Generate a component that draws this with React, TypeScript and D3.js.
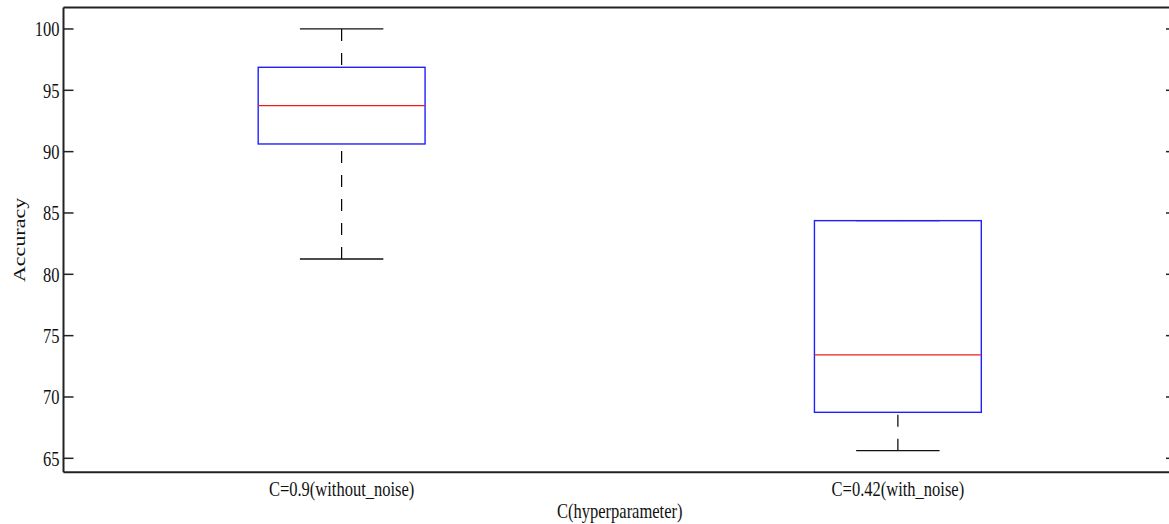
import * as d3 from 'd3'

const categories = ['C=0.9(without_noise)', 'C=0.42(with_noise)']
const lowerWhisker = [81.25, 65.625]
const q1 = [90.625, 68.75]
const median = [93.75, 73.4375]
const q3 = [96.875, 84.375]
const upperWhisker = [100, 84.375]
const yTicks = [65, 70, 75, 80, 85, 90, 95, 100]

const W = 1169
const H = 524
const SQ = 0.75 // the reference text is squeezed horizontally
const txt = { fontFamily: "'Liberation Serif', serif", fontSize: '22px', fill: '#111' }

export default function App() {
  const left = 63.5, right = 1176, top = 7.5, bottom = 472.3
  const x = d3.scaleLinear().domain([0.5, 2.5]).range([left, right])
  const y = d3.scaleLinear().domain([63.86, 101.75]).range([bottom, top])
  const boxHalf = 0.15, capHalf = 0.075

  return (
    <svg width={W} height={H} style={{ position: 'absolute', left: 0, top: 0, display: 'block', background: '#fff' }}>
      {/* axes box */}
      <line x1={left} x2={W + 10} y1={top} y2={top} stroke="#222" strokeWidth={2} />
      <line x1={left} x2={W + 10} y1={bottom} y2={bottom} stroke="#222" strokeWidth={2} />
      <line x1={left} x2={left} y1={top} y2={bottom} stroke="#222" strokeWidth={2} />
      <line x1={right} x2={right} y1={top} y2={bottom} stroke="#222" strokeWidth={2} />

      {yTicks.map(t => (
        <g key={t}>
          <line x1={left} x2={left + 10} y1={y(t)} y2={y(t)} stroke="#222" strokeWidth={1.5} />
          <line x1={right - 10} x2={right} y1={y(t)} y2={y(t)} stroke="#222" strokeWidth={1.5} />
          <text transform={`translate(${left - 4},${y(t)}) scale(${SQ},1)`} textAnchor="end" dominantBaseline="central"
            style={txt}>{t}</text>
        </g>
      ))}

      {categories.map((c, i) => {
        const cx = x(i + 1)
        return (
          <g key={c}>
            {/* whiskers, dashed from the cap toward the box */}
            <line x1={cx} x2={cx} y1={y(upperWhisker[i])} y2={y(q3[i])} stroke="#000" strokeWidth={1.2} strokeDasharray="12 12" />
            <line x1={cx} x2={cx} y1={y(lowerWhisker[i])} y2={y(q1[i])} stroke="#000" strokeWidth={1.2} strokeDasharray="12 12" />
            <line x1={x(i + 1 - capHalf)} x2={x(i + 1 + capHalf)} y1={y(upperWhisker[i])} y2={y(upperWhisker[i])} stroke="#111" strokeWidth={1.3} />
            <line x1={x(i + 1 - capHalf)} x2={x(i + 1 + capHalf)} y1={y(lowerWhisker[i])} y2={y(lowerWhisker[i])} stroke="#111" strokeWidth={1.3} />
            <rect x={x(i + 1 - boxHalf)} y={y(q3[i])} width={x(i + 1 + boxHalf) - x(i + 1 - boxHalf)} height={y(q1[i]) - y(q3[i])}
              fill="none" stroke="#2020ff" strokeWidth={1.4} />
            <line x1={x(i + 1 - boxHalf)} x2={x(i + 1 + boxHalf)} y1={y(median[i])} y2={y(median[i])} stroke="#ee1c1c" strokeWidth={1.3} />
            <text transform={`translate(${cx},${bottom + 16}) scale(${SQ},1)`} textAnchor="middle" dominantBaseline="central"
              style={txt}>{c}</text>
          </g>
        )
      })}

      <text transform={`translate(${(left + right) / 2},${511}) scale(${SQ},1)`} textAnchor="middle" dominantBaseline="central"
        style={txt}>C(hyperparameter)</text>
      <text transform={`translate(19,${(top + bottom) / 2}) rotate(-90) scale(1,${SQ})`} textAnchor="middle" dominantBaseline="central"
        style={txt}>Accuracy</text>
    </svg>
  )
}
